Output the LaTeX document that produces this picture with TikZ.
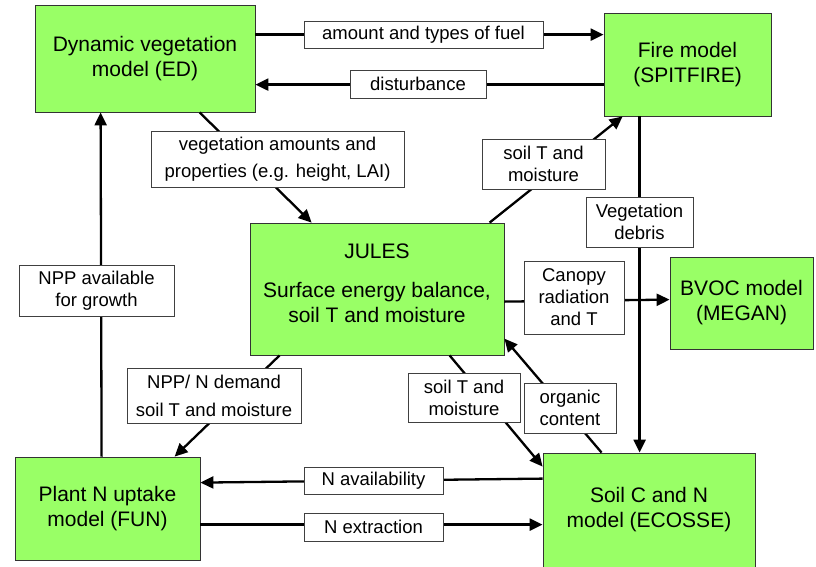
\documentclass[tikz,border=0pt]{standalone}
\usepackage{fontspec}
\setmainfont{Liberation Sans}
\usetikzlibrary{arrows.meta,calc}
\definecolor{boxgreen}{RGB}{153,255,102}
\begin{document}
\begin{tikzpicture}[x=1pt,y=-1pt,
  model/.style={draw=black!80, line width=0.8pt, fill=boxgreen, align=center, inner sep=0pt, font=\fontsize{21}{25}\selectfont},
  modeltext/.style={align=center, inner sep=0pt, font=\fontsize{21}{25}\selectfont},
  lbl/.style={draw=black!75, line width=0.7pt, fill=white, align=center, inner sep=0pt, font=\fontsize{18.5}{22}\selectfont},
  conn/.style={line width=2.3pt},
  arr/.style={conn, -{Triangle[length=13pt,width=12pt]}}]
\useasboundingbox[fill=white] (0,0) rectangle (816,566);

% model boxes
\node[model, minimum width=220pt, minimum height=107pt] (ed) at (145,58.5) {Dynamic vegetation\\model (ED)};
\node[model, minimum width=167pt, minimum height=103pt] (fire) at (687.5,64.5) {Fire model\\(SPITFIRE)};
\node[model, minimum width=254pt, minimum height=132pt] (jules) at (377,289) {};
\node[modeltext] (jtext) at (377,283) {JULES\\[14pt]Surface energy balance,\\soil T and moisture};
\node[model, minimum width=143pt, minimum height=92pt] (bvoc) at (741.5,303) {BVOC model\\(MEGAN)};
\node[model, minimum width=185pt, minimum height=103pt] (fun) at (107.5,508.5) {Plant N uptake\\model (FUN)};
\node[model, minimum width=212pt, minimum height=114pt] (soil) at (649,510) {Soil C and N\\model (ECOSSE)};

% connectors
\draw[arr] ([yshift=-30pt]ed.north east) -- ([yshift=-22pt]fire.north west);
\draw[arr] ([yshift=-72pt]fire.north west) -- ([yshift=-80pt]ed.north east);
\draw[arr] ([xshift=165pt]ed.south west) -- ([xshift=62pt]jules.north west);
\draw[arr] ([xshift=240pt]jules.north west) -- ([xshift=19pt]fire.south west);
\draw[arr] ([xshift=36pt]fire.south west) -- ([xshift=97pt]soil.north west);
\draw[arr] ([yshift=-79pt]jules.north east) -- ([yshift=-43pt]bvoc.north west);
\draw[arr] ([xshift=87pt]fun.north west) -- ([xshift=66pt]ed.south west);
\draw[arr] ([xshift=30pt]jules.south west) -- ([xshift=160pt]fun.north west);
\draw[arr] ([xshift=200pt]jules.south west) -- ([yshift=-14pt]soil.north west);
\draw[arr] ([xshift=59pt]soil.north west) -- ([yshift=-116pt]jules.north east);
\draw[arr] ([yshift=-26pt]soil.north west) -- ([yshift=-26pt]fun.north east);
\draw[arr] ([yshift=-68pt]fun.north east) -- ([yshift=-72pt]soil.north west);

% labels
\node[lbl, minimum width=239pt, minimum height=27pt] (lfuel) at (423.5,34.5) {amount and types of fuel};
\node[lbl, minimum width=136pt, minimum height=28pt] (ldist) at (418,84) {disturbance};
\node[lbl, minimum width=253pt, minimum height=56pt] (lveg) at (277.5,159) {vegetation amounts and\\[5pt]properties (e.g. height, LAI)};
\node[lbl, minimum width=123pt, minimum height=50pt] (lsoilup) at (543.5,164) {soil T and\\moisture};
\node[lbl, minimum width=107pt, minimum height=50pt] (ldebris) at (639.5,222) {Vegetation\\debris};
\node[lbl, minimum width=155pt, minimum height=51pt] (lnpp) at (96.5,290.5) {NPP available\\for growth};
\node[lbl, minimum width=100pt, minimum height=73pt] (lcanopy) at (574,297.5) {Canopy\\radiation\\and T};
\node[lbl, minimum width=174pt, minimum height=55pt] (ldemand) at (214,395.5) {NPP/ N demand\\[6pt]soil T and moisture};
\node[lbl, minimum width=112pt, minimum height=49pt] (lsoillow) at (464,397.5) {soil T and\\moisture};
\node[lbl, minimum width=92pt, minimum height=50pt] (lorg) at (570,408) {organic\\content};
\node[lbl, minimum width=139pt, minimum height=27pt] (lnavail) at (373.5,480.5) {N availability};
\node[lbl, minimum width=139pt, minimum height=28pt] (lnext) at (373.5,527) {N extraction};
\end{tikzpicture}
\end{document}
